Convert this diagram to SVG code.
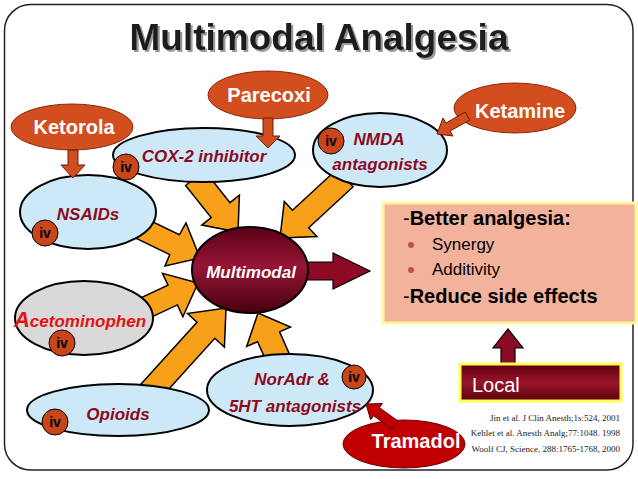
<svg xmlns="http://www.w3.org/2000/svg" width="638" height="479" viewBox="0 0 638 479">
<defs>
<linearGradient id="gMulti" x1="0" y1="0" x2="0" y2="1">
<stop offset="0" stop-color="#5a0014"/>
<stop offset="0.45" stop-color="#961536"/>
<stop offset="1" stop-color="#48000e"/>
</linearGradient>
<linearGradient id="gLocal" x1="0" y1="0" x2="0" y2="1">
<stop offset="0" stop-color="#5c0010"/>
<stop offset="0.5" stop-color="#981428"/>
<stop offset="1" stop-color="#5a0010"/>
</linearGradient>
<filter id="shadow" x="-5%" y="-20%" width="110%" height="140%">
<feOffset in="SourceAlpha" dx="2" dy="2" result="off"/>
<feFlood flood-color="#9a9a9a"/>
<feComposite in2="off" operator="in" result="sh"/>
<feMerge><feMergeNode in="sh"/><feMergeNode in="SourceGraphic"/></feMerge>
</filter>
<style>
.sans{font-family:"Liberation Sans",Arial,sans-serif}
.blue{fill:#cde9f8;stroke:#000;stroke-width:2}
.drug{fill:#d24e1e;stroke:#8a2a0a;stroke-width:1}
.dt{font-family:"Liberation Sans",Arial,sans-serif;font-weight:bold;font-size:20px;fill:#fff;text-anchor:middle}
.nt{font-family:"Liberation Sans",Arial,sans-serif;font-weight:bold;font-style:italic;font-size:17px;fill:#8c0a20;text-anchor:middle}
.ivc{fill:#c8461a;stroke:#000;stroke-width:1}
.ivt{font-family:"Liberation Sans",Arial,sans-serif;font-weight:bold;font-size:14px;fill:#000;text-anchor:middle}
.oa{fill:#f9a01b;stroke:#000;stroke-width:1.5;stroke-linejoin:miter}
.ra{fill:#8c0a24;stroke:#000;stroke-width:1.2}
.sa{fill:#d24e1e;stroke:#6a1a05;stroke-width:1}
.ref{font-family:"Liberation Serif","Times New Roman",serif;font-size:9px;fill:#222;text-anchor:end}
</style>
</defs>
<rect x="0" y="0" width="638" height="479" fill="#fff"/>
<rect x="4.5" y="4.5" width="628.5" height="465.5" rx="26" fill="#fff" stroke="#222" stroke-width="1.5"/>
<g id="title">
<text x="319" y="50" class="sans" font-size="37" font-weight="bold" fill="#1e1e1e" text-anchor="middle" filter="url(#shadow)">Multimodal Analgesia</text>
</g>
<g id="connectors">
<polygon class="oa" points="185.6,185.5 211.2,217.6 201.8,225.1 238,232 239.4,195.1 230,202.6 204.4,170.5"/>
<polygon class="oa" points="336.9,169.2 292.5,210.2 284.3,201.4 280,238 316.9,236.6 308.7,227.8 353.1,186.8"/>
<polygon class="oa" points="135.2,237.9 169.8,254.6 165,266 200,258 186,223 179.4,234.8 144.8,218.1"/>
<polygon class="oa" points="149.7,317.9 177.4,304.9 182.9,316.7 198,283 162.5,273.3 168,285.1 140.3,298.1"/>
<polygon class="oa" points="158.9,400.1 214.8,338.3 224.4,347 226,308 187.4,313.4 197,322.2 141.1,383.9"/>
<polygon class="oa" points="289,353.1 279.6,331.9 290.5,327 258,313 246.7,346.5 257.6,341.7 267,362.9"/>
<polygon class="ra" points="300,262 333,262 333,253 370,271 333,289 333,280 300,280"/>
<polygon class="ra" points="501,364 501,348 493,348 508,329 523,348 515,348 515,364"/>
</g>
<g id="node-cox2">
<ellipse class="blue" cx="204" cy="155" rx="91" ry="27"/>
<text class="nt" x="204" y="162">COX-2 inhibitor</text>
<circle class="ivc" cx="126" cy="167" r="13"/>
<text class="ivt" x="126" y="172">iv</text>
</g>
<g id="node-nmda">
<ellipse class="blue" cx="380" cy="150" rx="67" ry="37"/>
<text class="nt" x="379" y="145">NMDA</text>
<text class="nt" x="380" y="170">antagonists</text>
<circle class="ivc" cx="331" cy="141" r="13"/>
<text class="ivt" x="331" y="146">iv</text>
</g>
<g id="node-nsaids">
<ellipse class="blue" cx="88" cy="212" rx="68" ry="37"/>
<text class="nt" x="88" y="220">NSAIDs</text>
<circle class="ivc" cx="45" cy="233" r="13"/>
<text class="ivt" x="45" y="238">iv</text>
</g>
<g id="node-acetominophen">
<ellipse cx="84" cy="318" rx="69" ry="37" fill="#d9d9d9" stroke="#000" stroke-width="2"/>
<text x="80" y="327" class="sans" font-weight="bold" font-style="italic" fill="#e41212" text-anchor="middle"><tspan font-size="22">A</tspan><tspan font-size="17">cetominophen</tspan></text>
<circle class="ivc" cx="62" cy="343" r="13"/>
<text class="ivt" x="62" y="348">iv</text>
</g>
<g id="node-opioids">
<ellipse class="blue" cx="118" cy="410" rx="91" ry="26"/>
<text class="nt" x="118" y="420">Opioids</text>
<circle class="ivc" cx="55" cy="422" r="13"/>
<text class="ivt" x="55" y="427">iv</text>
</g>
<g id="node-noradr">
<ellipse class="blue" cx="290" cy="390" rx="83" ry="36"/>
<text class="nt" x="292" y="385">NorAdr &amp;</text>
<text class="nt" x="295" y="412">5HT antagonists</text>
<circle class="ivc" cx="354" cy="377" r="12"/>
<text class="ivt" x="354" y="382">iv</text>
</g>
<g id="node-multimodal">
<ellipse cx="250" cy="270" rx="58" ry="43" fill="url(#gMulti)" stroke="#000" stroke-width="2"/>
<text x="251" y="278" class="sans" font-size="17" font-weight="bold" font-style="italic" fill="#fff" text-anchor="middle">Multimodal</text>
</g>
<g id="node-parecoxi">
<ellipse class="drug" cx="268" cy="95" rx="60" ry="24"/>
<text class="dt" x="269" y="102">Parecoxi</text>
</g>
<g id="node-ketorola">
<ellipse class="drug" cx="72" cy="127" rx="61" ry="23"/>
<text class="dt" x="74" y="134">Ketorola</text>
</g>
<g id="node-ketamine">
<ellipse class="drug" cx="515" cy="108" rx="61" ry="25"/>
<text class="dt" x="520" y="118">Ketamine</text>
</g>
<g id="node-tramadol">
<ellipse cx="404" cy="444" rx="61" ry="24" fill="#c00000" stroke="#700000" stroke-width="1"/>
<text class="dt" x="416" y="448">Tramadol</text>
</g>
<g id="node-benefits">
<rect x="383" y="203" width="253" height="120" fill="#f2b29b" stroke="#fff59a" stroke-width="3"/>
<text x="403" y="225" class="sans" font-size="20" fill="#000">-<tspan font-weight="bold">Better analgesia:</tspan></text>
<circle cx="411" cy="245" r="3" fill="#c0504d"/>
<text x="432" y="250" class="sans" font-size="17" fill="#000">Synergy</text>
<circle cx="411" cy="270" r="3" fill="#c0504d"/>
<text x="432" y="275" class="sans" font-size="17" fill="#000">Additivity</text>
<text x="403" y="303" class="sans" font-size="20" fill="#000">-<tspan font-weight="bold">Reduce side effects</tspan></text>
</g>
<g id="node-local">
<rect x="460" y="364" width="161" height="37" fill="url(#gLocal)" stroke="#ffff55" stroke-width="3"/>
<text x="472" y="392" class="sans" font-size="20" fill="#fff">Local</text>
</g>
<g id="references">
<text class="ref" x="620" y="421">Jin et al. J Clin Anesth;1s:524, 2001</text>
<text class="ref" x="620" y="436">Kehlet et al. Anesth Analg;77:1048. 1998</text>
<text class="ref" x="620" y="452">Woolf CJ, Science, 288:1765-1768, 2000</text>
</g>
<g id="connectors-drugs">
<polygon class="sa" points="263,118 273,118 273,136 280,136 268,148 256,136 263,136"/>
<polygon class="sa" points="68,150 78,150 78,165 85,165 73,178 61,165 68,165"/>
<polygon class="sa" points="465,112 446,123 443,118 437,134 453,136 450,131 470,120"/>
<polygon fill="#c00000" stroke="#600000" stroke-width="1" points="397.9,421 379.4,407.6 382.4,403.5 366,404 370.6,419.7 373.6,415.7 392.1,429"/>
</g>
</svg>
